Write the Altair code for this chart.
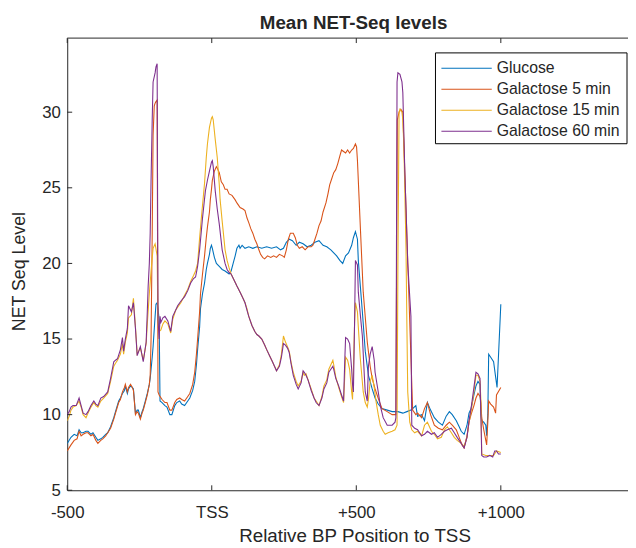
import altair as alt
import pandas as pd

SERIES = ["Glucose", "Galactose 5 min", "Galactose 15 min", "Galactose 60 min"]
COLORS = ["#0072BD", "#D95319", "#EDB120", "#7E2F8E"]

GLUCOSE = [(-500,8.1),(-487,8.5),(-476,8.7),(-466,8.6),(-459,9.0),(-452,8.8),(-445,8.8),(-435,8.9),(-428,8.9),(-418,8.7),(-411,8.8),(-401,8.5),(-394,8.3),(-384,8.4),(-377,8.5),(-367,8.7),(-360,8.8),(-350,9.2),(-339,9.8),(-333,10.2),(-322,10.9),(-316,11.1),(-309,11.4),(-302,11.6),(-299,11.9),(-292,11.4),(-288,11.7),(-281,11.9),(-275,11.8),(-271,11.7),(-264,10.1),(-258,10.3),(-254,10.3),(-247,9.8),(-241,10.2),(-237,10.4),(-230,10.9),(-223,11.4),(-216,12.0),(-213,12.4),(-206,13.8),(-203,14.5),(-196,16.5),(-193,17.3),(-189,17.4),(-186,17.0),(-182,16.3),(-179,10.9),(-172,10.8),(-162,10.6),(-155,10.5),(-145,10.0),(-138,10.0),(-128,10.6),(-121,10.8),(-111,10.9),(-104,10.7),(-94,10.6),(-83,10.9),(-76,11.1),(-66,11.6),(-59,12.2),(-53,13.3),(-49,14.3),(-42,15.8),(-39,17.0),(-32,18.0),(-25,18.7),(-19,19.6),(-15,20.0),(-8,20.6),(-5,21.0),(-1,21.2),(2,21.0),(9,20.4),(16,20.0),(26,19.8),(36,19.6),(46,19.5),(53,19.4),(60,19.3),(67,19.5),(74,20.0),(81,20.5),(87,21.0),(94,21.2),(98,21.0),(105,21.2),(115,21.0),(128,21.1),(142,21.0),(156,21.1),(173,21.0),(190,21.1),(207,21.0),(224,21.1),(238,20.9),(248,21.0),(258,21.4),(268,21.6),(279,21.5),(292,21.2),(303,21.4),(316,21.3),(330,21.1),(344,21.2),(357,21.4),(371,21.5),(385,21.2),(398,21.1),(412,20.9),(422,20.7),(432,20.5),(443,20.2),(453,20.0),(463,20.5),(473,20.7),(484,21.2),(490,21.7),(497,22.1),(504,21.6),(507,20.2),(514,18.5),(521,16.8),(531,14.2),(542,12.6),(555,11.7),(565,11.1),(576,10.7),(589,10.4),(607,10.3),(624,10.2),(644,10.2),(661,10.1),(675,10.2),(689,10.3),(695,10.4),(706,10.6),(712,9.9),(726,10.0),(736,9.6),(746,10.8),(757,10.3),(770,9.8),(784,9.5),(798,9.3),(811,9.9),(822,10.2),(832,10.0),(846,9.6),(856,9.2),(863,8.9),(873,8.7),(883,9.3),(890,10.1),(897,10.4),(907,11.3),(914,11.9),(921,12.2),(928,12.0),(931,10.0),(934,9.6),(941,9.5),(948,9.3),(951,8.6),(955,10.0),(958,14.0),(965,13.8),(975,13.5),(982,12.5),(987,11.8),(1000,17.3)]

GAL5 = [(-500,7.6),(-487,8.0),(-476,8.3),(-466,8.4),(-459,8.9),(-452,8.6),(-445,8.7),(-435,8.8),(-428,8.8),(-418,8.6),(-411,8.7),(-401,8.3),(-394,8.1),(-384,8.3),(-377,8.4),(-367,8.6),(-360,8.8),(-350,9.1),(-339,9.7),(-333,10.1),(-322,10.8),(-316,11.0),(-309,11.5),(-302,11.8),(-299,12.0),(-292,11.5),(-288,11.8),(-281,12.0),(-275,11.8),(-271,11.6),(-264,10.0),(-258,10.2),(-254,10.1),(-247,9.7),(-241,10.1),(-237,10.3),(-230,10.8),(-223,11.3),(-216,12.0),(-213,12.6),(-210,15.0),(-206,22.0),(-203,28.5),(-199,30.4),(-196,30.6),(-193,30.7),(-189,30.8),(-186,11.5),(-182,11.3),(-172,11.0),(-162,10.8),(-155,10.8),(-145,10.3),(-138,10.3),(-128,10.8),(-121,11.0),(-111,11.1),(-104,11.0),(-94,10.9),(-83,11.2),(-76,11.4),(-66,12.0),(-59,12.8),(-53,14.0),(-49,15.0),(-42,16.8),(-39,18.0),(-32,19.3),(-25,20.5),(-19,21.7),(-15,22.4),(-8,23.4),(-5,24.2),(-1,24.9),(2,25.5),(9,26.1),(16,26.4),(19,26.3),(26,26.0),(33,25.4),(40,25.2),(46,24.9),(53,24.9),(60,24.6),(70,24.5),(81,24.2),(87,24.0),(98,23.7),(108,23.6),(115,23.5),(122,23.0),(128,22.7),(135,22.3),(142,22.0),(149,21.6),(156,21.3),(163,20.9),(169,20.6),(176,20.4),(183,20.3),(193,20.5),(204,20.4),(214,20.5),(224,20.4),(234,20.6),(245,20.5),(251,20.4),(258,20.9),(265,21.6),(272,22.0),(282,22.0),(289,21.7),(296,21.2),(303,21.0),(313,21.1),(323,20.9),(333,21.1),(344,21.1),(350,21.2),(357,21.6),(364,22.0),(371,22.5),(378,22.8),(385,23.4),(395,24.0),(402,24.6),(408,25.2),(415,25.6),(422,26.0),(429,26.2),(436,26.6),(443,27.1),(449,27.5),(456,27.4),(463,27.3),(470,27.5),(477,27.3),(484,27.5),(490,27.6),(497,27.9),(501,27.7),(504,26.8),(514,22.4),(524,18.1),(538,14.8),(548,13.2),(555,12.4),(565,11.7),(572,11.3),(583,10.7),(589,10.4),(607,10.2),(624,10.0),(637,10.0),(642,29.5),(648,30.0),(654,30.2),(661,30.0),(695,10.3),(706,10.0),(712,10.1),(726,9.8),(736,10.4),(746,10.8),(757,10.0),(770,9.3),(784,9.1),(798,9.0),(811,9.3),(822,9.5),(832,9.3),(846,9.0),(856,8.5),(866,8.0),(873,7.8),(883,8.6),(890,9.5),(897,10.0),(907,10.6),(914,11.1),(921,11.4),(928,11.2),(931,10.8),(934,9.8),(941,9.0),(948,8.3),(951,8.0),(955,9.5),(958,10.9),(965,10.7),(975,10.5),(982,10.1),(985,11.3),(1000,11.8)]

GAL15 = [(-500,9.6),(-493,9.9),(-487,10.3),(-480,10.5),(-469,10.6),(-459,10.9),(-452,10.5),(-445,10.0),(-435,9.8),(-428,10.1),(-418,10.5),(-408,10.8),(-401,10.6),(-394,10.5),(-384,10.9),(-374,11.1),(-360,11.4),(-350,12.2),(-339,13.2),(-333,13.4),(-326,13.6),(-316,14.0),(-309,14.7),(-305,14.0),(-299,14.8),(-292,15.4),(-288,16.4),(-278,16.6),(-271,17.7),(-264,15.8),(-258,14.0),(-247,14.4),(-237,13.6),(-227,14.7),(-223,16.0),(-216,18.0),(-210,19.5),(-203,21.0),(-196,21.3),(-189,20.5),(-186,16.0),(-182,15.5),(-176,15.6),(-169,16.0),(-162,16.2),(-152,16.0),(-142,15.4),(-135,16.3),(-125,16.9),(-118,17.1),(-107,17.4),(-94,17.9),(-83,18.3),(-73,18.8),(-63,19.2),(-56,19.5),(-49,20.0),(-42,21.7),(-36,23.0),(-25,25.3),(-19,27.0),(-15,27.9),(-8,29.0),(-1,29.6),(2,29.7),(5,29.5),(12,28.2),(19,27.0),(26,25.2),(29,24.2),(36,22.8),(46,20.9),(53,20.2),(60,19.7),(67,19.3),(77,18.9),(87,18.5),(98,18.1),(108,17.7),(115,17.4),(122,17.0),(128,16.5),(139,15.9),(149,15.5),(156,15.3),(163,15.2),(173,15.0),(183,14.6),(190,14.3),(200,13.9),(210,13.5),(217,13.2),(224,12.9),(234,13.3),(241,14.0),(248,15.2),(255,14.8),(262,14.5),(268,14.2),(275,13.4),(282,12.8),(292,12.2),(299,11.9),(309,12.2),(316,12.8),(320,12.6),(326,12.7),(333,12.3),(344,11.7),(354,11.1),(361,10.9),(371,10.6),(381,11.2),(388,11.9),(398,12.3),(405,13.0),(412,13.3),(419,13.6),(422,13.3),(429,12.5),(439,11.8),(449,11.2),(456,10.8),(460,12.5),(463,13.8),(470,13.6),(477,13.0),(484,11.5),(487,11.0),(490,13.0),(494,16.0),(497,17.4),(504,16.8),(507,15.8),(514,13.7),(524,11.5),(531,10.8),(538,10.5),(542,11.0),(548,12.2),(555,12.6),(562,11.8),(569,10.8),(576,10.0),(583,9.3),(593,8.9),(600,8.7),(610,8.8),(624,8.9),(634,9.0),(641,9.3),(644,20.0),(648,30.0),(651,30.2),(658,30.0),(661,29.5),(665,27.5),(672,21.0),(675,16.0),(678,11.5),(685,9.5),(692,9.0),(702,8.8),(712,8.9),(726,8.6),(736,9.3),(746,9.5),(760,8.9),(770,8.7),(781,8.4),(794,8.5),(805,9.0),(815,9.2),(829,8.8),(839,8.5),(849,8.3),(863,8.1),(873,7.9),(883,8.5),(890,9.5),(897,10.2),(907,11.5),(914,12.6),(921,12.6),(928,12.2),(931,11.0),(934,7.4),(948,7.3),(975,7.3),(985,7.6),(1000,7.5)]

GAL60 = [(-500,10.0),(-493,10.2),(-487,10.5),(-480,10.6),(-469,10.6),(-459,11.1),(-452,10.6),(-445,10.1),(-435,10.0),(-428,10.2),(-418,10.6),(-408,10.9),(-401,10.7),(-394,10.6),(-384,11.1),(-374,11.2),(-360,11.5),(-350,12.4),(-339,13.5),(-333,13.6),(-326,13.7),(-316,14.3),(-309,15.1),(-305,14.2),(-299,15.0),(-292,15.7),(-288,17.2),(-278,16.8),(-271,17.4),(-264,15.7),(-258,13.9),(-247,14.5),(-237,13.5),(-227,14.8),(-223,16.8),(-220,18.5),(-216,20.0),(-213,22.0),(-210,25.5),(-206,29.5),(-203,32.0),(-196,32.6),(-193,33.0),(-189,33.2),(-186,16.3),(-182,15.0),(-179,16.5),(-176,16.1),(-169,16.4),(-162,16.5),(-152,16.2),(-142,15.5),(-135,16.5),(-125,16.9),(-118,17.2),(-107,17.5),(-94,17.8),(-83,18.2),(-73,18.7),(-63,19.0),(-56,19.1),(-49,19.8),(-42,20.9),(-32,23.0),(-22,24.8),(-15,25.5),(-8,26.1),(-1,26.7),(2,26.8),(5,26.4),(12,24.8),(19,23.6),(26,22.6),(36,20.9),(46,20.0),(53,19.6),(60,19.4),(67,19.3),(77,18.9),(87,18.5),(98,18.1),(108,17.7),(115,17.4),(122,16.9),(128,16.5),(139,15.9),(149,15.5),(156,15.3),(163,15.2),(173,15.0),(183,14.6),(190,14.3),(200,13.9),(210,13.5),(217,13.2),(224,12.9),(234,13.2),(241,13.8),(248,14.7),(255,14.6),(262,14.4),(268,14.1),(275,13.3),(282,12.6),(292,12.0),(299,11.7),(309,12.1),(316,12.9),(320,12.8),(326,12.6),(333,12.3),(344,11.6),(354,11.1),(361,10.8),(371,10.6),(381,11.1),(388,11.7),(398,12.1),(405,12.8),(412,13.0),(419,13.2),(422,13.0),(429,12.4),(439,11.9),(449,11.3),(456,10.9),(460,13.5),(463,15.1),(470,15.0),(477,14.7),(484,13.0),(487,12.0),(490,11.5),(494,16.0),(497,20.2),(504,19.9),(507,18.1),(514,16.6),(521,15.2),(528,12.5),(531,11.5),(538,10.9),(542,13.2),(548,14.0),(555,14.5),(562,13.6),(565,12.8),(576,11.5),(583,10.6),(593,9.8),(607,9.3),(624,9.3),(634,9.5),(637,9.8),(641,32.0),(644,32.6),(651,32.5),(658,32.0),(661,31.3),(668,26.0),(678,20.0),(689,16.5),(692,9.3),(702,9.1),(712,9.0),(726,8.6),(736,8.7),(746,8.9),(760,8.7),(770,8.8),(781,8.5),(794,8.7),(805,8.9),(815,9.0),(829,9.1),(839,8.8),(849,8.5),(863,8.1),(873,7.8),(883,8.5),(890,9.6),(897,10.4),(907,11.8),(914,12.8),(921,12.7),(928,12.4),(931,10.0),(934,7.3),(941,7.2),(951,7.2),(962,7.3),(972,7.2),(979,7.6),(985,7.6),(992,7.4),(1000,7.4)]

X_TICKS = [-500, 0, 500, 1000]
X_LABELS = ["-500", "TSS", "+500", "+1000"]
Y_TICKS = [5, 10, 15, 20, 25, 30]
TITLE = "Mean NET-Seq levels"
X_TITLE = "Relative BP Position to TSS"
Y_TITLE = "NET Seq Level"

W, H = 568, 458
FONT = "Liberation Sans"
INK = "#262626"

xs = alt.Scale(domain=[-500, 1440], nice=False, zero=False)
ys = alt.Scale(domain=[5, 34.9], nice=False, zero=False)

label_expr = " : ".join(
    f"datum.value == {v} ? '{l}'" for v, l in zip(X_TICKS, X_LABELS)
) + " : ''"

xaxis = alt.Axis(
    values=X_TICKS, labelExpr=label_expr, ticks=False, grid=False,
    domainColor=INK, domainWidth=1, labelFont=FONT, labelFontSize=17,
    labelColor=INK, labelPadding=15, labelFlush=False, labelOverlap=False,
    title=X_TITLE, titleFont=FONT, titleFontSize=19, titleFontWeight="normal",
    titleColor=INK, titleX=291, titleY=52, titleBaseline="alphabetic",
    titleAlign="center", titleAnchor="start",
)
yaxis = alt.Axis(
    values=Y_TICKS, format="d", ticks=False, grid=False,
    domainColor=INK, domainWidth=1, labelFont=FONT, labelFontSize=17,
    labelColor=INK, labelPadding=7, labelFlush=False, labelOverlap=False,
    title=Y_TITLE, titleFont=FONT, titleFontSize=18, titleFontWeight="normal",
    titleColor=INK, titleX=-48, titleY=236, titleBaseline="middle",
    titleAlign="center", titleAngle=270, titleAnchor="start",
)

layers = []
for data, color in zip([GLUCOSE, GAL5, GAL15, GAL60], COLORS):
    df = pd.DataFrame(data, columns=["bp", "v"])
    layers.append(
        alt.Chart(df).mark_line(color=color, strokeWidth=1.1, clip=True).encode(
            x=alt.X("bp:Q", scale=xs, axis=xaxis),
            y=alt.Y("v:Q", scale=ys, axis=yaxis),
        )
    )

# inward tick marks (MATLAB style) and top box edge
ytick_df = pd.DataFrame({"v": Y_TICKS})
xtick_df = pd.DataFrame({"bp": X_TICKS})
layers.append(
    alt.Chart(ytick_df).mark_rule(color=INK, strokeWidth=1).encode(
        y=alt.Y("v:Q", scale=ys, axis=yaxis), x=alt.value(0), x2=alt.value(5)
    )
)
layers.append(
    alt.Chart(xtick_df).mark_rule(color=INK, strokeWidth=1).encode(
        x=alt.X("bp:Q", scale=xs, axis=xaxis), y=alt.value(H), y2=alt.value(H - 5)
    )
)
layers.append(
    alt.Chart(xtick_df).mark_rule(color=INK, strokeWidth=1).encode(
        x=alt.X("bp:Q", scale=xs, axis=xaxis), y=alt.value(0), y2=alt.value(5)
    )
)
one = pd.DataFrame({"k": [0]})
layers.append(
    alt.Chart(one).mark_rule(color=INK, strokeWidth=1).encode(
        x=alt.value(0), x2=alt.value(W), y=alt.value(0)
    )
)

# chart title as a text mark above the plot
layers.append(
    alt.Chart(pd.DataFrame({"label": [TITLE]})).mark_text(
        align="center", baseline="alphabetic", font=FONT, fontSize=19,
        fontWeight="bold", color=INK,
    ).encode(text="label:N", x=alt.value(290), y=alt.value(-9))
)

# legend box
LEG_X0, LEG_X1, LEG_Y0, LEG_Y1 = 373, 567, 15, 107
ROW_Y = [30.5, 51.8, 73.1, 94.4]
layers.append(
    alt.Chart(one).mark_rect(fill="white", stroke="#000000", strokeWidth=1).encode(
        x=alt.value(LEG_X0), x2=alt.value(LEG_X1), y=alt.value(LEG_Y0), y2=alt.value(LEG_Y1)
    )
)
for name, color, ry in zip(SERIES, COLORS, ROW_Y):
    layers.append(
        alt.Chart(one).mark_rule(color=color, strokeWidth=1.1).encode(
            x=alt.value(379), x2=alt.value(430), y=alt.value(ry)
        )
    )
    layers.append(
        alt.Chart(pd.DataFrame({"label": [name]})).mark_text(
            align="left", baseline="middle", font=FONT, fontSize=16, color=INK
        ).encode(text="label:N", x=alt.value(435), y=alt.value(ry))
    )

chart = alt.layer(*layers).properties(
    width=W,
    height=H,
    autosize=alt.AutoSizeParams(type="none"),
    padding={"left": 60, "top": 27, "right": 0, "bottom": 55},
).configure_view(stroke=None)

chart.save("out.html", embed_options={"renderer": "svg", "actions": False})
